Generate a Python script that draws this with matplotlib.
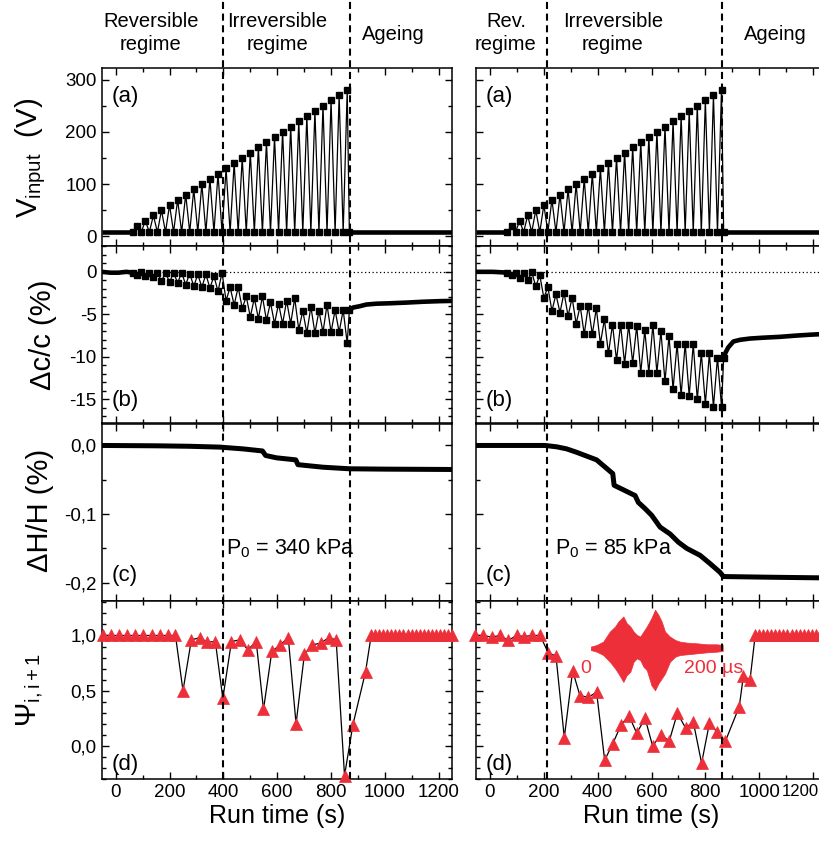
import matplotlib
matplotlib.use("Agg")
import matplotlib.pyplot as plt
from matplotlib.lines import Line2D
from matplotlib.ticker import MultipleLocator, FuncFormatter
from matplotlib import transforms

# ---------------- data ----------------
# (a) voltage protocol (same for both runs)
t_peak = [80, 110, 140, 170, 200, 230, 260, 290, 320, 350, 380, 410, 440, 470,
          500, 530, 560, 590, 620, 650, 680, 710, 740, 770, 800, 830, 860]
v_peak = [20, 30, 40, 50, 60, 70, 80, 90, 100, 110, 120, 130, 140, 150,
          160, 170, 180, 190, 200, 210, 220, 230, 240, 250, 260, 270, 280]
t_rest = [95, 125, 155, 185, 215, 245, 275, 305, 335, 365, 395, 425, 455, 485,
          515, 545, 575, 605, 635, 665, 695, 725, 755, 785, 815, 845, 868]
v_rest = [8, 8, 8, 8, 8, 8, 8, 8, 8, 8, 8, 8, 8, 8,
          8, 8, 8, 8, 8, 8, 8, 8, 8, 8, 8, 8, 8]
t_v_pre = [-52, 65]
v_pre = [8, 8]
t_v_post = [868, 1250]
v_post = [8, 8]

# (b) sound velocity change, low points at peak voltage / high points at rest
dc_lo_left = [-0.4, -0.5, -0.6, -1.1, -1.2, -1.3, -1.5, -1.7, -1.8, -1.9, -2.3, -3.4, -3.9, -4.3,
              -5.3, -5.5, -5.7, -6.1, -6.1, -6.1, -6.8, -7.2, -7.2, -7.1, -7.1, -7.1, -8.4]
dc_hi_left = [0.0, -0.1, -0.1, -0.1, -0.1, -0.1, -0.2, -0.3, -0.3, -0.5, -0.1, -1.8, -1.8, -2.9,
              -3.1, -2.9, -3.6, -3.75, -3.4, -3.1, -4.6, -4.1, -4.6, -3.9, -4.5, -4.5, -4.5]
dc_lo_right = [-0.4, -0.7, -1.0, -1.7, -3.05, -4.6, -4.8, -5.2, -6.1, -7.35, -7.35, -8.45, -9.6, -10.4,
               -10.8, -10.7, -11.85, -11.85, -11.85, -12.9, -13.8, -14.5, -14.6, -15.0, -15.55, -15.9, -15.85]
dc_hi_right = [-0.1, -0.1, -0.04, -0.4, -1.8, -2.65, -2.45, -3.05, -4.0, -4.0, -4.3, -5.6, -6.2, -6.2,
               -6.25, -6.4, -6.9, -6.25, -7.0, -7.55, -8.5, -8.45, -8.5, -9.6, -9.6, -10.1, -10.1]
t_dc_pre = [-52, -20, 10, 40, 65]
dc_pre_left = [0.0, -0.1, -0.1, 0.0, -0.1]
dc_pre_right = [0.0, 0.0, 0.0, -0.05, -0.1]
t_dc_post_left = [882, 906, 931, 968, 1018, 1080, 1142, 1204, 1250]
dc_post_left = [-4.2, -4.05, -3.85, -3.75, -3.7, -3.62, -3.52, -3.45, -3.42]
t_dc_post_right = [875, 885, 904, 929, 966, 1015, 1077, 1139, 1189, 1250]
dc_post_right = [-9.5, -8.9, -8.2, -8.0, -7.85, -7.75, -7.65, -7.5, -7.4, -7.3]

# (c) height change
t_dh_left = [-52, 151, 275, 386, 473, 545, 557, 597, 669, 677, 770, 869, 1000, 1250]
dh_left = [0.0, -0.0005, -0.0012, -0.0024, -0.005, -0.008, -0.0146, -0.018, -0.021, -0.028,
           -0.0317, -0.034, -0.0345, -0.035]
t_dh_right = [-55, 204, 248, 285, 322, 396, 456, 461, 539, 551, 576, 601, 632, 669, 700,
              731, 780, 817, 855, 867, 1040, 1250]
dh_right = [0.0, 0.0, -0.002, -0.005, -0.01, -0.021, -0.041, -0.058, -0.073, -0.083, -0.092,
            -0.102, -0.119, -0.129, -0.141, -0.15, -0.16, -0.172, -0.185, -0.191, -0.192, -0.193]

# (d) decorrelation between successive waveforms
t_psi_left = [-47, -17, 13, 43, 73, 103, 133, 163, 193, 222, 250, 281, 312, 340, 370, 398,
              430, 460, 491, 522, 549, 580, 611, 641, 670, 701, 730, 761, 791, 819, 850, 881,
              928, 949, 964, 979, 994, 1009, 1024, 1039, 1054, 1069, 1084, 1099, 1114, 1129,
              1144, 1159, 1174, 1189, 1204, 1219, 1234, 1249]
psi_left = [1.0, 1.0, 1.0, 1.0, 1.0, 1.0, 1.0, 1.0, 1.0, 1.0, 0.50, 0.96, 0.98, 0.94, 0.945, 0.43,
            0.945, 0.96, 0.87, 0.945, 0.33, 0.855, 0.915, 0.98, 0.20, 0.83, 0.915, 0.93, 0.98, 0.96,
            -0.27, 0.19, 0.67, 1.0, 1.0, 1.0, 1.0, 1.0, 1.0, 1.0, 1.0, 1.0, 1.0, 1.0, 1.0, 1.0,
            1.0, 1.0, 1.0, 1.0, 1.0, 1.0, 1.0, 1.0]
t_psi_right = [-56, -25, 6, 37, 68, 99, 126, 157, 186, 217, 245, 276, 307, 334, 365, 396, 426,
               456, 487, 516, 545, 576, 604, 635, 666, 696, 727, 755, 786, 815, 844, 874, 926,
               941, 966, 985, 1000, 1015, 1030, 1045, 1060, 1075, 1090, 1105, 1120, 1135, 1150,
               1165, 1180, 1195, 1210, 1225, 1240]
psi_right = [1.0, 1.0, 0.985, 1.0, 0.955, 1.0, 0.99, 1.0, 1.0, 0.84, 0.815, 0.075, 0.68, 0.456,
             0.44, 0.486, -0.13, 0.02, 0.19, 0.275, 0.115, 0.25, 0.0, 0.10, 0.045, 0.296, 0.16,
             0.22, -0.157, 0.205, 0.124, 0.04, 0.356, 0.63, 0.60, 1.0, 1.0, 1.0, 1.0, 1.0, 1.0,
             1.0, 1.0, 1.0, 1.0, 1.0, 1.0, 1.0, 1.0, 1.0, 1.0, 1.0, 1.0]

# inset acoustic waveform envelope (time in us, arbitrary amplitude)
wave_t = [0, 9, 19, 29, 37, 42, 49.5, 54.5, 60, 65, 70, 75, 80, 85, 92, 97.5, 102.5,
          107.5, 112.6, 120, 128, 135, 145.5, 160.6, 176, 191, 200]
wave_hi = [5, 10, 20, 50, 65, 80, 95, 75, 65, 50, 40, 35, 50, 65, 90, 115, 100, 80, 50,
           35, 25, 20, 17, 15, 12, 12, 10]
wave_lo = [-5, -10, -20, -40, -60, -75, -100, -80, -70, -40, -30, -35, -55, -65, -110, -125,
           -105, -90, -75, -40, -25, -20, -18, -15, -12, -10, -8]

regime_left = [400, 870]
regime_right = [210, 860]

RED = "#ED2F3A"
W, H = 820, 847

plt.rcParams.update({
    "font.family": ["Liberation Sans", "DejaVu Sans"],
    "mathtext.fontset": "custom",
    "mathtext.rm": "Liberation Sans",
    "mathtext.it": "Liberation Sans:italic",
    "axes.unicode_minus": False,
    "axes.linewidth": 1.1,
    "xtick.labelsize": 13.5,
    "ytick.labelsize": 13.5,
})


def fx(px):
    return px / W


def fy(py):
    return 1 - py / H


def zigzag(t_lo, y_lo, t_hi, y_hi):
    t, y = [], []
    for i in range(len(t_lo)):
        t += [t_lo[i], t_hi[i]]
        y += [y_lo[i], y_hi[i]]
    return t, y


def comma(v, pos):
    s = f"{v:.1f}".replace(".", ",")
    return "0,0" if s == "-0,0" else s


fig = plt.figure(figsize=(8.2, 8.47), dpi=100)

col_x = [101.7, 476.0]
ax_w = 350.5
row_top = [68, 245.75, 423.5, 601.25]
row_h = 177.75

axes = [[None] * 4 for _ in range(2)]
for c in range(2):
    for r in range(4):
        ax = fig.add_axes([fx(col_x[c]), fy(row_top[r] + row_h), ax_w / W, row_h / H])
        ax.set_xlim(-52, 1250)
        ax.xaxis.set_major_locator(MultipleLocator(200))
        ax.xaxis.set_minor_locator(MultipleLocator(100))
        ax.tick_params(which="both", direction="in", top=True, right=True, width=1.0)
        ax.tick_params(which="major", length=5)
        ax.tick_params(which="minor", length=2.8)
        if r < 3:
            ax.tick_params(labelbottom=False)
        if c == 1:
            ax.tick_params(labelleft=False)
        axes[c][r] = ax

datasets = [
    dict(dc_lo=dc_lo_left, dc_hi=dc_hi_left, dc_pre=dc_pre_left,
         t_post=t_dc_post_left, dc_post=dc_post_left,
         t_dh=t_dh_left, dh=dh_left, t_psi=t_psi_left, psi=psi_left,
         lines=regime_left, p0="P$_{\\mathrm{0}}$ = 340 kPa", p0x=0.355),
    dict(dc_lo=dc_lo_right, dc_hi=dc_hi_right, dc_pre=dc_pre_right,
         t_post=t_dc_post_right, dc_post=dc_post_right,
         t_dh=t_dh_right, dh=dh_right, t_psi=t_psi_right, psi=psi_right,
         lines=regime_right, p0="P$_{\\mathrm{0}}$ = 85 kPa", p0x=0.225),
]

for c, d in enumerate(datasets):
    ax_a, ax_b, ax_c, ax_d = axes[c]

    # (a) input voltage
    t, v = zigzag(t_peak, v_peak, t_rest, v_rest)
    ax_a.plot(t_v_pre, v_pre, "-", color="k", lw=3.3, solid_capstyle="butt")
    ax_a.plot(t_v_post, v_post, "-", color="k", lw=3.3, solid_capstyle="butt")
    ax_a.plot([t_v_pre[-1]] + t, [v_pre[-1]] + v, "-", color="k", lw=0.9,
              marker="s", ms=4)
    ax_a.set_ylim(-18, 322)
    ax_a.yaxis.set_major_locator(MultipleLocator(100))
    ax_a.yaxis.set_minor_locator(MultipleLocator(50))
    ax_a.text(0.028, 0.84, "(a)", transform=ax_a.transAxes, fontsize=16, va="center")

    # (b) velocity change
    ax_b.axhline(0, color="k", lw=0.9, ls=(0, (1, 2)))
    t, y = zigzag(t_peak, d["dc_lo"], t_rest, d["dc_hi"])
    ax_b.plot(t_dc_pre, d["dc_pre"], "-", color="k", lw=3.3, solid_capstyle="butt")
    ax_b.plot([t_rest[-1]] + d["t_post"], [d["dc_hi"][-1]] + d["dc_post"], "-",
              color="k", lw=3.3, solid_capstyle="butt")
    ax_b.plot([t_dc_pre[-1]] + t, [d["dc_pre"][-1]] + y, "-", color="k", lw=0.9,
              marker="s", ms=4)
    ax_b.set_ylim(-17.85, 3.07)
    ax_b.yaxis.set_major_locator(MultipleLocator(5))
    ax_b.yaxis.set_minor_locator(MultipleLocator(1))
    ax_b.text(0.028, 0.13, "(b)", transform=ax_b.transAxes, fontsize=16, va="center")

    # (c) height change
    ax_c.plot(d["t_dh"], d["dh"], "-", color="k", lw=3.6, solid_capstyle="butt")
    ax_c.set_ylim(-0.227, 0.032)
    ax_c.yaxis.set_major_locator(MultipleLocator(0.1))
    ax_c.yaxis.set_minor_locator(MultipleLocator(0.05))
    ax_c.yaxis.set_major_formatter(FuncFormatter(comma))
    ax_c.text(0.028, 0.145, "(c)", transform=ax_c.transAxes, fontsize=16, va="center")
    ax_c.text(d["p0x"], 0.30, d["p0"], transform=ax_c.transAxes, fontsize=15.5, va="center")

    # (d) correlation
    ax_d.plot(d["t_psi"], d["psi"], "-", color="k", lw=0.9, zorder=2)
    ax_d.plot(d["t_psi"], d["psi"], "^", color=RED, ms=8, mec=RED, mew=0.5,
              zorder=3, clip_on=False)
    ax_d.set_ylim(-0.30, 1.31)
    ax_d.yaxis.set_major_locator(MultipleLocator(0.5))
    ax_d.yaxis.set_minor_locator(MultipleLocator(0.1))
    ax_d.yaxis.set_major_formatter(FuncFormatter(comma))
    ax_d.text(0.028, 0.08, "(d)", transform=ax_d.transAxes, fontsize=16, va="center")
    ax_d.set_xlabel("Run time (s)", fontsize=18, labelpad=2)

    # regime boundaries run through all panels up to the top of the figure
    blend = transforms.blended_transform_factory(ax_d.transData, fig.transFigure)
    for xv in d["lines"]:
        fig.add_artist(Line2D([xv, xv], [fy(row_top[3] + row_h), 1.0], transform=blend,
                              color="k", lw=1.5, ls=(0, (3.4, 2.2))))

# last tick label of the right column sits at the figure edge: pull it inside
fig.canvas.draw()
for lab in axes[1][3].get_xticklabels():
    if lab.get_text() == "1200":
        lab.set_horizontalalignment("right")
        lab.set_fontsize(12)
        lab.set_transform(lab.get_transform()
                          + transforms.ScaledTranslation(0.06, 0, fig.dpi_scale_trans))

# inset waveform
ax_in = fig.add_axes([fx(590.7), fy(692), 132 / W, 84 / H])
ax_in.fill_between(wave_t, wave_lo, wave_hi, color=RED, lw=0.5)
ax_in.set_xlim(0, 200)
ax_in.set_ylim(-130, 120)
ax_in.axis("off")
fig.text(fx(586), fy(668), "0", color=RED, fontsize=14, ha="center", va="center")
fig.text(fx(714), fy(668), "200 \u00b5s", color=RED, fontsize=14, ha="center", va="center")

# header
hdr = dict(fontsize=14.5, ha="center", va="center", linespacing=1.3)
fig.text(fx(151), fy(33), "Reversible\nregime", **hdr)
fig.text(fx(277), fy(33), "Irreversible\nregime", **hdr)
fig.text(fx(393), fy(35), "Ageing", **hdr)
fig.text(fx(506), fy(33), "Rev.\nregime", **hdr)
fig.text(fx(613), fy(33), "Irreversible\nregime", **hdr)
fig.text(fx(775), fy(35), "Ageing", **hdr)

# y labels
ylab = dict(fontsize=21, rotation=90, ha="center", va="center")
fig.text(fx(31), fy(158), "V$_{\\mathrm{input}}$  (V)", **ylab)
fig.text(fx(43), fy(335), "\u0394c/c (%)", **ylab)
fig.text(fx(40), fy(510), "\u0394H/H (%)", **ylab)
fig.text(fx(31), fy(690), "$\\mathrm{\\Psi}_{\\mathrm{i,i+1}}$", **ylab)

fig.savefig("out.png", dpi=100)
